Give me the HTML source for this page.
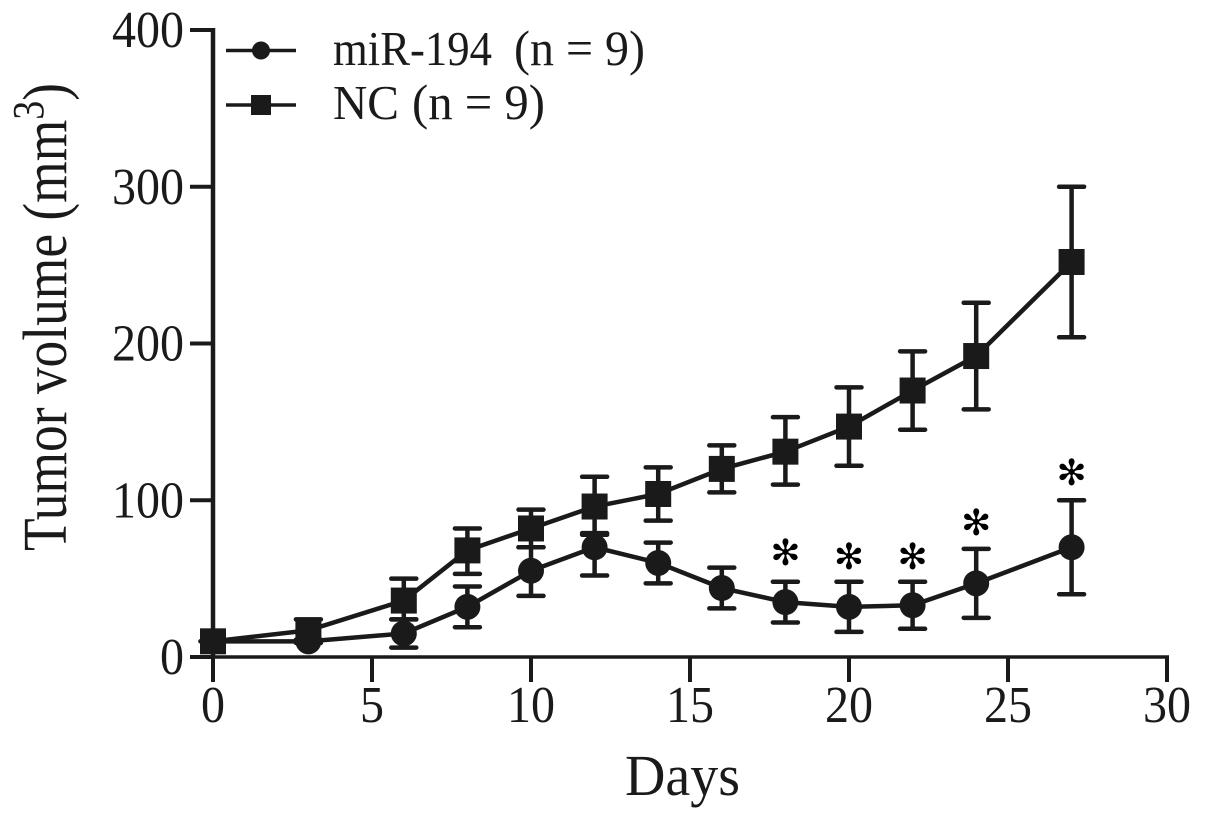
<!DOCTYPE html>
<html>
<head>
<meta charset="utf-8">
<title>Tumor volume chart</title>
<style>
html,body{margin:0;padding:0;background:#fff;width:1205px;height:819px;overflow:hidden}
svg{display:block}
text{font-family:"Liberation Serif",serif;fill:#1a1a1a}
</style>
</head>
<body>
<svg id="chart" xmlns="http://www.w3.org/2000/svg" width="1205" height="819" viewBox="0 0 1205 819">
  <g id="axes"></g>
  <g id="plot"></g>
  <text transform="translate(66,551) rotate(-90)" font-size="62" textLength="468" lengthAdjust="spacingAndGlyphs">Tumor volume (mm<tspan font-size="44" dy="-23">3</tspan><tspan dy="23">)</tspan></text>
  <text x="625" y="795" font-size="58" textLength="115" lengthAdjust="spacingAndGlyphs">Days</text>
  <g>
    <g>
      <line x1="226" x2="296" y1="50.5" y2="50.5" stroke="#1a1a1a" stroke-width="3.5"/>
      <circle cx="261" cy="50.5" r="9" fill="#1a1a1a"/>
      <text x="333" y="65" font-size="49" textLength="159" lengthAdjust="spacingAndGlyphs">miR-194</text>
      <text x="514" y="65" font-size="50" textLength="131" lengthAdjust="spacingAndGlyphs">(n = 9)</text>
    </g>
    <g>
      <line x1="226" x2="296" y1="105" y2="105" stroke="#1a1a1a" stroke-width="3.5"/>
      <rect x="251" y="95" width="20" height="20" fill="#1a1a1a"/>
      <text x="333" y="119" font-size="49" textLength="66" lengthAdjust="spacingAndGlyphs">NC</text>
      <text x="412" y="119" font-size="50" textLength="133" lengthAdjust="spacingAndGlyphs">(n = 9)</text>
    </g>
  </g>
</svg>
<script>
const days = [0, 3, 6, 8, 10, 12, 14, 16, 18, 20, 22, 24, 27];
const mirMean = [10, 10, 15, 32, 55, 70, 60, 44, 35, 32, 33, 47, 70];
const mirUpper = [10, 11, 24, 45, 70, 79, 73, 57, 48, 48, 48, 69, 100];
const mirLower = [10, 9, 6, 19, 39, 52, 47, 31, 22, 16, 18, 25, 40];
const ncMean = [10, 17, 36, 68, 82, 96, 104, 120, 131, 147, 170, 192, 252];
const ncUpper = [10, 24, 50, 82, 94, 115, 121, 135, 153, 172, 195, 226, 300];
const ncLower = [10, 10, 24, 53, 70, 78, 87, 105, 110, 122, 145, 158, 204];
const starDays = [18, 20, 22, 24, 27];
const starValues = [67, 64.5, 64.5, 86, 118];
const xTicks = [0, 5, 10, 15, 20, 25, 30];
const yTicks = [0, 100, 200, 300, 400];

const NS = 'http://www.w3.org/2000/svg';
const INK = '#1a1a1a';
const xScale = function (d) { return 213 + d * 31.8; };
const yScale = function (v) { return 657 - v * 1.5675; };

function make(parent, tag, props) {
  const el = document.createElementNS(NS, tag);
  for (const k in props) el.setAttribute(k, props[k]);
  parent.appendChild(el);
  return el;
}

const axes = document.getElementById('axes');
const plot = document.getElementById('plot');

const xAxisLine = make(axes, 'line', {x1: xScale(0) - 23, x2: xScale(30) + 2, y1: yScale(0), y2: yScale(0), stroke: INK, 'stroke-width': 3.5});


const yAxisLine = make(axes, 'line', {x1: xScale(0), x2: xScale(0), y1: yScale(400) - 2, y2: yScale(0), stroke: INK, 'stroke-width': 4.5});



xTicks.forEach(function (t) {
  const tick = make(axes, 'line', {x1: xScale(t), x2: xScale(t), y1: yScale(0), y2: 682, stroke: INK, 'stroke-width': 4});
  
  
  const text = String(t);
  const w = text.length * 24;
  const label = make(axes, 'text', {x: xScale(t) - w / 2, y: 722, 'font-size': 52, textLength: w, lengthAdjust: 'spacingAndGlyphs'});
  
  
  label.textContent = text;
});

yTicks.forEach(function (t) {
  const tick = make(axes, 'line', {x1: xScale(0) - 23, x2: xScale(0), y1: yScale(t), y2: yScale(t), stroke: INK, 'stroke-width': 4});
  
  
  const text = String(t);
  const w = text.length * 24;
  const label = make(axes, 'text', {x: 184 - w, y: yScale(t) + 17, 'font-size': 52, textLength: w, lengthAdjust: 'spacingAndGlyphs'});
  
  
  label.textContent = text;
});

function drawSeries(name, mean, upper, lower, isSquare) {
  const group = make(plot, 'g', {});
  
  
  days.forEach(function (d, i) {
    const x = xScale(d);
    const bar = make(group, 'path', {
      d: 'M' + (x - 12.5) + ' ' + yScale(upper[i]) + 'H' + (x + 12.5) +
         'M' + x + ' ' + yScale(upper[i]) + 'V' + yScale(lower[i]) +
         'M' + (x - 12.5) + ' ' + yScale(lower[i]) + 'H' + (x + 12.5),
      fill: 'none', stroke: INK, 'stroke-width': 4.5, 'stroke-linecap': 'round'
    });
    
    
  });
  const points = days.map(function (d, i) { return xScale(d) + ',' + yScale(mean[i]); }).join(' ');
  const line = make(group, 'polyline', {points: points, fill: 'none', stroke: INK, 'stroke-width': 4.5});
  
  
  days.forEach(function (d, i) {
    const x = xScale(d), y = yScale(mean[i]);
    const mark = isSquare
      ? make(group, 'rect', {x: x - 13, y: y - 13, width: 26, height: 26, fill: INK})
      : make(group, 'circle', {cx: x, cy: y, r: 13, fill: INK});
    
    
  });
}

drawSeries('mir-194', mirMean, mirUpper, mirLower, false);
drawSeries('nc', ncMean, ncUpper, ncLower, true);

starDays.forEach(function (d, i) {
  const star = make(plot, 'text', {x: xScale(d), y: yScale(starValues[i]) + 13, 'font-size': 36, 'text-anchor': 'middle', style: 'fill:#000;font-family:"DejaVu Sans",sans-serif'});
  
  
  star.textContent = '\u273B';
});
</script>
</body>
</html>
